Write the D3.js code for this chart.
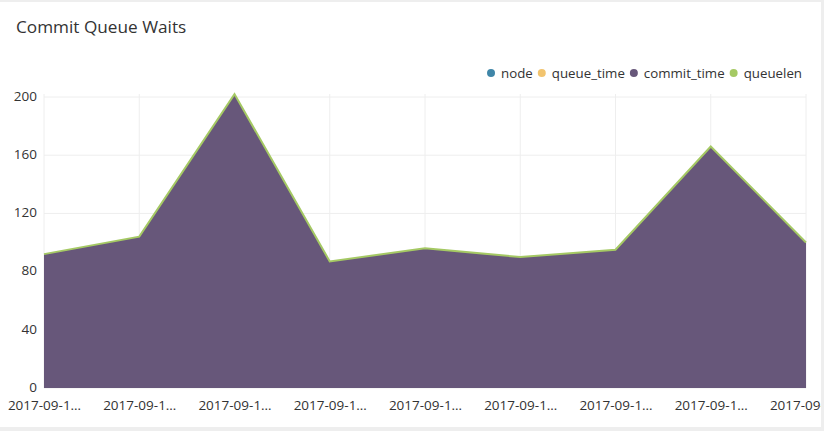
<!DOCTYPE html>
<html>
<head>
<meta charset="utf-8">
<script src="https://cdn.jsdelivr.net/npm/d3@7"></script>
<style>
  body { margin: 0; background: #eeeeee; font-family: "Open Sans", sans-serif; }
  #card { position: absolute; left: 0; top: 2px; width: 821px; height: 425px; background: #fff; }
</style>
</head>
<body>
<div id="card"><svg id="chart" width="821" height="425"></svg></div>
<script>
// data
const categories = ["2017-09-1…", "2017-09-1…", "2017-09-1…", "2017-09-1…", "2017-09-1…",
    "2017-09-1…", "2017-09-1…", "2017-09-1…", "2017-09-1…"];
const seriesNames = ["node", "queue_time", "commit_time", "queuelen"];
const seriesColors = ["#3f86a8", "#f2c46f", "#67577a", "#a5c964"];
const nodeValues = [0, 0, 0, 0, 0, 0, 0, 0, 0];
const queueTimeValues = [0, 0, 0, 0, 0, 0, 0, 0, 0];
const commitTimeValues = [92, 104, 202, 87, 96, 90, 95, 166, 100];
const queuelenValues = [0, 0, 0, 0, 0, 0, 0, 0, 0];
const yTicks = [0, 40, 80, 120, 160, 200];

const svg = d3.select("#chart");
const margin = { left: 44, right: 15, top: 95, bottom: 39 };
const width = 821, height = 425;

svg.append("text")
    .attr("x", 16).attr("y", 31)
    .attr("font-size", 17.2).attr("fill", "#333")
    .text("Commit Queue Waits");

// legend, right aligned
const legend = svg.append("g").selectAll("g").data(seriesNames).join("g");
legend.append("circle").attr("r", 4).attr("cy", -1).attr("fill", (d, i) => seriesColors[i]);
legend.append("text").attr("x", 10).attr("y", 4).attr("font-size", 13.3).attr("fill", "#333").text(d => d);
const widths = [];
legend.each(function () { widths.push(d3.select(this).select("text").node().getComputedTextLength()); });
const total = d3.sum(widths, w => 10 + w) + 9 * (widths.length - 1);
let lx = 802 - total;
legend.each(function (d, i) {
    d3.select(this).attr("transform", `translate(${lx},72)`);
    lx += 10 + widths[i] + 9;
});

const x = d3.scalePoint().domain(d3.range(categories.length)).range([margin.left, width - margin.right]);
const y = d3.scaleLinear().domain([0, 200]).range([height - margin.bottom, margin.top]);

// grid
svg.append("g").selectAll("line").data(yTicks).join("line")
    .attr("x1", margin.left).attr("x2", width - margin.right)
    .attr("y1", d => y(d)).attr("y2", d => y(d))
    .attr("stroke", "#eeeeee");
svg.append("g").selectAll("line").data(d3.range(categories.length)).join("line")
    .attr("x1", d => x(d)).attr("x2", d => x(d))
    .attr("y1", y(0)).attr("y2", y(200) - 3)
    .attr("stroke", "#eeeeee");

// stacked areas
const rows = categories.map((c, i) => ({
    node: nodeValues[i], queue_time: queueTimeValues[i],
    commit_time: commitTimeValues[i], queuelen: queuelenValues[i], idx: i
}));
const stacked = d3.stack().keys(seriesNames)(rows);
const area = d3.area().x(d => x(d.data.idx)).y0(d => y(d[0])).y1(d => y(d[1]));
const line = d3.line().x(d => x(d.data.idx)).y(d => y(d[1]));

svg.append("g").selectAll("path").data(stacked).join("path")
    .attr("fill", (d, i) => seriesColors[i])
    .attr("d", area);
svg.append("g").selectAll("path").data(stacked.slice(3)).join("path")
    .attr("fill", "none").attr("stroke", seriesColors[3]).attr("stroke-width", 2)
    .attr("d", line);

// axes
const yAxis = svg.append("g").attr("transform", `translate(${margin.left - 3},0)`)
    .call(d3.axisLeft(y).tickValues(yTicks).tickSize(0).tickPadding(4));
yAxis.select(".domain").remove();
yAxis.selectAll("text").attr("font-size", 13.5).attr("fill", "#333").attr("font-family", "Open Sans")
    .attr("dy", "0.25em");

const xAxis = svg.append("g").attr("transform", `translate(0,${y(0)})`)
    .call(d3.axisBottom(x).tickFormat(i => categories[i]).tickSize(0).tickPadding(12));
xAxis.select(".domain").remove();
xAxis.selectAll("text").attr("font-size", 13.5).attr("fill", "#333").attr("font-family", "Open Sans");
</script>
</body>
</html>
